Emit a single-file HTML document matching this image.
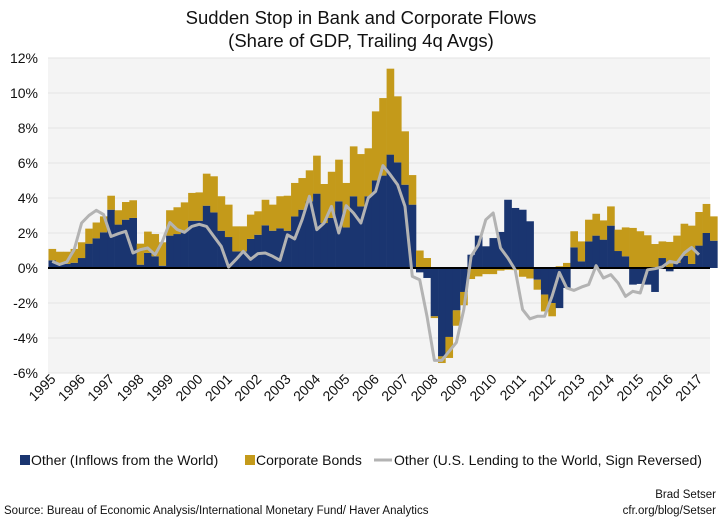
<!DOCTYPE html>
<html><head><meta charset="utf-8"><style>
body{margin:0;background:#fff;width:723px;height:521px;overflow:hidden;font-family:"Liberation Sans",sans-serif}
svg text{font-family:"Liberation Sans",sans-serif}
</style></head><body>
<svg id="chart" width="723" height="521" viewBox="0 0 723 521" xmlns="http://www.w3.org/2000/svg">
<text x="361" y="24" font-size="18.5" text-anchor="middle" fill="#111">Sudden Stop in Bank and Corporate Flows</text>
<text x="361" y="47" font-size="18.5" text-anchor="middle" fill="#111">(Share of GDP, Trailing 4q Avgs)</text>
<rect x="48" y="58" width="662" height="315" fill="#f4f4f4"/>
<g id="grid"></g><g id="bars"></g><g id="line"></g><g id="xlabels"></g>
<g>
<rect x="20" y="455" width="10" height="10" fill="#1a3570"/>
<text x="31" y="465" font-size="14" fill="#111">Other (Inflows from the World)</text>
<rect x="245" y="455" width="10" height="10" fill="#c49a1a"/>
<text x="256" y="465" font-size="14" fill="#111">Corporate Bonds</text>
<line x1="374" y1="460" x2="392" y2="460" stroke="#b3b3b3" stroke-width="3"/>
<text x="394" y="465" font-size="14" fill="#111">Other (U.S. Lending to the World, Sign Reversed)</text>
</g>
<text x="4" y="514" font-size="11.5" fill="#111">Source: Bureau of Economic Analysis/International Monetary Fund/ Haver Analytics</text>
<text x="716" y="498" font-size="11.5" text-anchor="end" fill="#111">Brad Setser</text>
<text x="716" y="514" font-size="11.5" text-anchor="end" fill="#111">cfr.org/blog/Setser</text>
</svg>
<script>
const years = ["1995","1996","1997","1998","1999","2000","2001","2002","2003","2004","2005","2006","2007","2008","2009","2010","2011","2012","2013","2014","2015","2016","2017"];
const yTicks = [12,10,8,6,4,2,0,-2,-4,-6];
const navy = [0.44,0.2,0.23,0.3,0.57,1.39,1.7,2.04,3.33,2.48,2.76,2.86,0.19,0.86,0.67,0.13,1.85,1.94,2.1,2.7,2.7,3.56,3.18,2.13,1.77,0.95,0.95,1.66,1.9,2.44,2.13,2.27,2.13,2.95,3.33,3.81,4.25,2.57,2.86,3.81,2.32,4.1,3.52,4.1,5.0,5.28,6.48,6.04,4.76,3.62,-0.25,-0.57,-2.76,-5.05,-3.94,-2.42,-1.37,0.76,1.85,1.24,1.71,2.06,3.9,3.43,3.33,2.67,-0.67,-1.52,-2.0,-2.29,-1.14,1.18,0.38,1.52,1.85,1.62,2.42,0.97,0.67,-0.95,-0.91,-0.95,-1.37,0.57,-0.19,0.29,0.7,0.23,1.28,2.0,1.56];
const gold = [0.65,0.73,0.7,0.79,0.9,0.86,0.9,0.91,0.8,0.82,1.01,1.01,1.2,1.22,1.27,1.34,1.45,1.53,1.65,1.59,1.62,1.83,2.06,1.97,1.85,1.43,1.43,1.39,1.34,1.46,1.49,1.83,2.0,1.91,1.81,1.77,2.17,2.23,2.64,2.38,2.54,2.85,2.99,2.74,3.95,4.43,4.91,3.77,3.05,1.69,1.0,0.57,-0.1,-0.38,-1.2,-0.88,-0.76,-0.63,-0.48,-0.35,-0.35,-0.15,-0.1,-0.12,-0.5,-0.6,-0.57,-0.96,-0.76,0.1,0.29,0.92,1.14,1.24,1.25,1.1,1.1,1.22,1.65,2.29,2.1,1.87,1.37,0.95,1.49,1.56,1.83,2.19,1.92,1.66,1.39];
const usLending = [0.38,0.2,0.35,1.05,2.57,3.0,3.3,3.05,1.8,1.96,2.1,0.86,1.05,1.14,0.76,1.52,2.6,2.2,2.04,2.38,2.5,2.38,1.8,1.24,0.05,0.48,0.95,0.5,0.82,0.86,0.67,0.44,1.9,1.66,2.76,4.1,2.19,2.57,3.52,2.0,3.56,3.14,2.57,4.0,4.38,5.85,5.33,4.76,3.52,-0.48,-0.67,-2.76,-5.28,-5.28,-4.76,-4.25,-2.38,0.67,1.33,2.76,3.14,1.14,0.57,-0.1,-2.38,-2.9,-2.76,-2.76,-1.62,-0.25,-1.14,-1.28,-1.09,-0.95,0.13,-0.57,-0.38,-0.86,-1.62,-1.33,-1.43,-0.1,-0.04,0.06,0.38,0.29,0.86,1.18,0.76,null];

const NS="http://www.w3.org/2000/svg";
const X0=48.5, BW=7.35, Y0=58, Y1=373, VMAX=12, VMIN=-6;
function y(v){return Y0+(VMAX-v)*(Y1-Y0)/(VMAX-VMIN);}
function x(i){return X0+i*BW;}
function mk(tag,attrs,parent){const e=document.createElementNS(NS,tag);for(const k in attrs)e.setAttribute(k,attrs[k]);parent.appendChild(e);return e;}
const grid=document.getElementById('grid');
yTicks.forEach(t=>{
  if(t!==0){const l=mk('line',{x1:48,x2:710,y1:y(t),y2:y(t),stroke:'#e3e3e3','stroke-width':1},grid);
  
  }
  const tx=mk('text',{x:38,y:y(t)+5,'font-size':14,'text-anchor':'end',fill:'#111'},grid);
  tx.textContent=t+'%';
  
  
});
const bars=document.getElementById('bars');
navy.forEach((n,i)=>{
  const g=gold[i];
  const r=mk('rect',{x:x(i),width:BW+0.3,y:Math.min(y(n),y(0)),height:Math.abs(y(n)-y(0)),fill:'#1a3570'},bars);
  
  
  const base=(Math.sign(g)===Math.sign(n))?n:0;
  const a=y(base), b=y(base+g);
  const r2=mk('rect',{x:x(i),width:BW+0.3,y:Math.min(a,b),height:Math.abs(a-b),fill:'#c49a1a'},bars);
  
  
});
const zl=mk('line',{x1:48,x2:710,y1:y(0),y2:y(0),stroke:'#000','stroke-width':2},bars);


let d='';
usLending.forEach((v,i)=>{if(v===null)return;d+=(d?'L':'M')+(x(i)+BW/2).toFixed(1)+','+y(v).toFixed(1);});
const pl=mk('path',{d:d,fill:'none',stroke:'#b3b3b3','stroke-width':3,'stroke-linejoin':'round'},document.getElementById('line'));


const xl=document.getElementById('xlabels');
years.forEach((yr,k)=>{
  const px=x(k*4)+8, py=380;
  const t=mk('text',{x:px,y:py,'font-size':14,'text-anchor':'end',fill:'#111',transform:`rotate(-45 ${px} ${py})`},xl);
  t.textContent=yr;
  
  
});
</script>
</body></html>
